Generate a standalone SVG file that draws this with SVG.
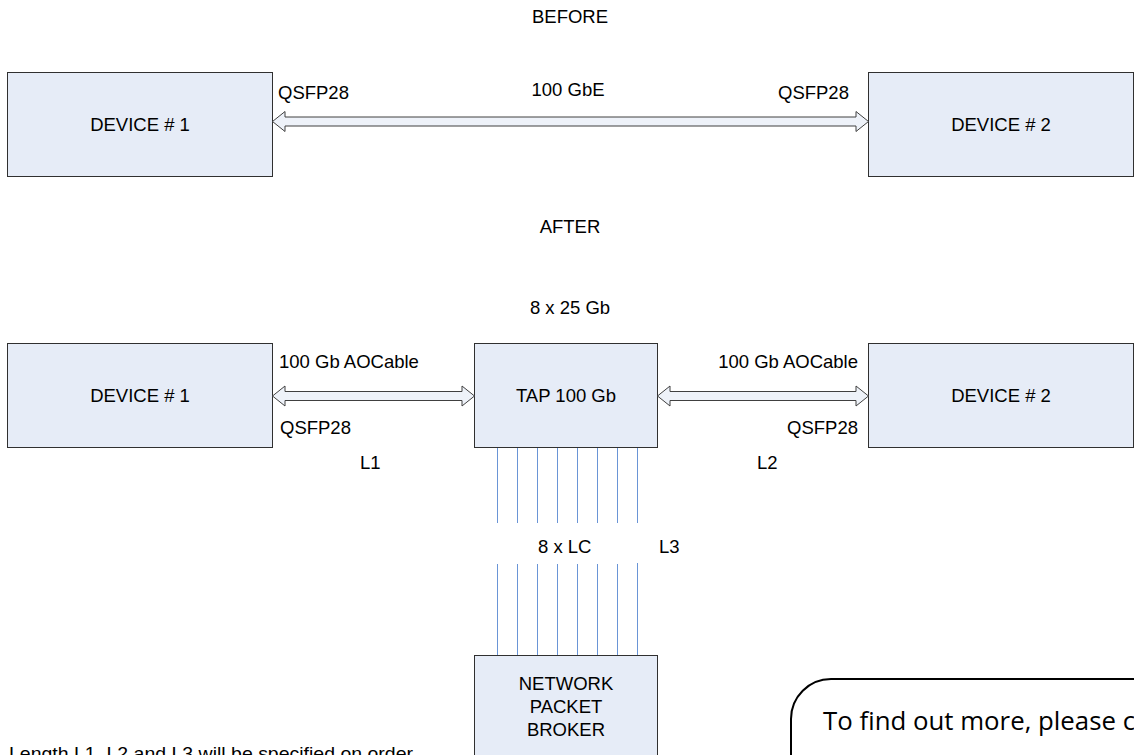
<svg xmlns="http://www.w3.org/2000/svg" width="1134" height="755" viewBox="0 0 1134 755">
<style>
.box{fill:#E6ECF7;stroke:#303030;stroke-width:1}
.t{font-family:"Liberation Sans",Arial,sans-serif;font-size:18.5px;fill:#000}
.m{text-anchor:middle}
.e{text-anchor:end}
.arrow{fill:#EEF2F9;stroke:#404040;stroke-width:1}
.fib{stroke:#6A95D6;stroke-width:1;fill:none}
</style>
<rect width="1134" height="755" fill="#fff"/>
<text class="t m" x="570" y="23">BEFORE</text>
<text class="t m" x="570" y="233">AFTER</text>
<text class="t m" x="570" y="314">8 x 25 Gb</text>

<g id="dev1-before"><rect class="box" x="7.5" y="72.5" width="265" height="104"/><text class="t m" x="140" y="131">DEVICE # 1</text></g>
<g id="dev2-before"><rect class="box" x="868.5" y="72.5" width="265" height="104"/><text class="t m" x="1001" y="131">DEVICE # 2</text></g>
<g id="dev1-after"><rect class="box" x="7.5" y="343.5" width="265" height="104"/><text class="t m" x="140" y="402">DEVICE # 1</text></g>
<g id="tap"><rect class="box" x="474.5" y="343.5" width="183" height="104"/><text class="t m" x="566" y="402">TAP 100 Gb</text></g>
<g id="dev2-after"><rect class="box" x="868.5" y="343.5" width="265" height="104"/><text class="t m" x="1001" y="402">DEVICE # 2</text></g>
<g id="npb"><rect class="box" x="474.5" y="655.5" width="183" height="110"/>
<text class="t m" x="566" y="690">NETWORK</text><text class="t m" x="566" y="713">PACKET</text><text class="t m" x="566" y="736">BROKER</text></g>

<g id="connectors">
<path class="arrow" d="M272.5 121.5 L285 111.5 L285 117 L856 117 L856 111.5 L868.5 121.5 L856 131.5 L856 126 L285 126 L285 131.5 Z"/>
<path class="arrow" d="M272.5 396 L285 386 L285 391.5 L462 391.5 L462 386 L474.5 396 L462 406 L462 400.5 L285 400.5 L285 406 Z"/>
<path class="arrow" d="M657.5 396 L670 386 L670 391.5 L856 391.5 L856 386 L868.5 396 L856 406 L856 400.5 L670 400.5 L670 406 Z"/>
<g class="fib">
<path d="M497.5 448V523M517.5 448V523M537.5 448V523M557.5 448V523M577.5 448V523M597.5 448V523M617.5 448V523M637.5 448V523"/>
<path d="M497.5 564V655M517.5 564V655M537.5 564V655M557.5 564V655M577.5 564V655M597.5 564V655M617.5 564V655M637.5 563V655"/>
</g>
</g>

<text class="t" x="278" y="99">QSFP28</text>
<text class="t m" x="568" y="96">100 GbE</text>
<text class="t" x="778" y="99">QSFP28</text>
<text class="t" x="279" y="368">100 Gb AOCable</text>
<text class="t" x="280" y="434">QSFP28</text>
<text class="t" x="360" y="469">L1</text>
<text class="t e" x="858" y="368">100 Gb AOCable</text>
<text class="t e" x="858" y="434">QSFP28</text>
<text class="t" x="757" y="469">L2</text>
<text class="t" x="538" y="553">8 x LC</text>
<text class="t" x="659" y="553">L3</text>
<text class="t" x="9" y="760" textLength="404" lengthAdjust="spacingAndGlyphs">Length L1, L2 and L3 will  be specified on order</text>

<g id="contact">
<path d="M791 760 V719 A40 40 0 0 1 831 679 H1140" fill="none" stroke="#000" stroke-width="2"/>
<text x="823" y="730" font-family="'Open Sans','Liberation Sans',sans-serif" font-size="26" fill="#000" textLength="312" lengthAdjust="spacingAndGlyphs">To find out more, please c</text>
</g>
</svg>
